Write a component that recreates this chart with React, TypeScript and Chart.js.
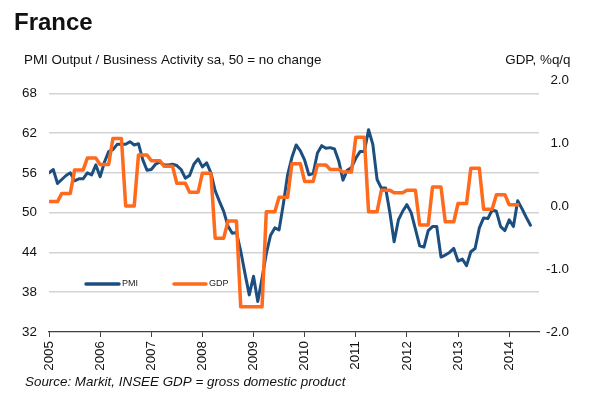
import React, { useEffect, useRef } from "react";
import { Chart, registerables } from "chart.js";

Chart.register(...registerables);

// ---------- data ----------
const yearLabels = ["2005", "2006", "2007", "2008", "2009", "2010", "2011", "2012", "2013", "2014"];

// Monthly PMI, Jan 2005 .. Jun 2014
const pmi = [
  56.0, 56.5, 54.4, 55.0, 55.6, 56.0, 54.8, 55.1, 55.1, 56.0, 55.7, 57.2, // 2005
  55.4, 57.6, 59.2, 59.5, 60.3, 60.3, 60.3, 60.7, 60.2, 60.4, 58.0, 56.4, // 2006
  56.5, 57.3, 57.6, 57.2, 57.2, 57.3, 57.1, 56.5, 55.2, 55.6, 57.3, 58.1, // 2007
  56.9, 57.5, 56.0, 53.3, 51.7, 50.2, 48.0, 46.9, 47.0, 44.2, 40.8, 37.6, // 2008
  40.4, 36.6, 40.1, 43.8, 46.6, 47.7, 47.4, 51.3, 55.7, 58.3, 60.2, 59.3, // 2009
  57.9, 55.7, 55.9, 59.0, 60.1, 59.7, 59.8, 59.6, 57.8, 54.9, 56.4, 56.8, // 2010
  58.2, 59.2, 59.2, 62.5, 60.3, 55.0, 53.7, 53.7, 50.0, 45.6, 48.9, 50.2, // 2011
  51.2, 50.0, 47.5, 45.0, 44.8, 47.3, 47.9, 47.9, 43.3, 43.6, 44.0, 44.6, // 2012
  42.7, 43.0, 42.0, 44.1, 44.6, 47.7, 49.2, 49.1, 50.4, 50.2, 47.9, 47.3, // 2013
  48.9, 47.9, 51.8, 50.6, 49.3, 48.1, // 2014
];

// Quarterly GDP % q/q, Q1 2005 .. Q1 2014
const gdpQuarterly = [
  0.07, 0.2, 0.57, 0.76, // 2005
  0.66, 1.07, 0.0, 0.81, // 2006
  0.72, 0.63, 0.36, 0.22, // 2007
  0.52, -0.51, -0.24, -1.6, // 2008
  -1.6, -0.09, 0.14, 0.67, // 2009
  0.39, 0.65, 0.58, 0.54, // 2010
  1.09, -0.09, 0.25, 0.21, // 2011
  0.25, -0.3, 0.3, -0.25, // 2012
  0.04, 0.6, -0.05, 0.18, // 2013
  0.02, // 2014
];

const leftTicks = [32, 38, 44, 50, 56, 62, 68];
const rightTicks = [-2, -1, 0, 1, 2];

// ---------- styles ----------
const FONT = '"Liberation Sans", Arial, Helvetica, sans-serif';
const BLUE = "#1C4F80";
const ORANGE = "#FF6A1C";
const TEXT = "#111111";

const textPlugin = {
  id: "texts",
  afterDraw(chart: any) {
    const ctx = chart.ctx;
    ctx.save();
    ctx.fillStyle = TEXT;
    ctx.textBaseline = "alphabetic";
    ctx.textAlign = "left";
    ctx.font = `bold 24px ${FONT}`;
    ctx.fillText("France", 14, 29.5);
    ctx.font = `13.4px ${FONT}`;
    ctx.fillText("PMI Output / Business Activity sa, 50 = no change", 24, 63.5);
    ctx.textAlign = "right";
    ctx.fillText("GDP, %q/q", 570.5, 64);
    ctx.textAlign = "left";
    ctx.font = `italic 13.4px ${FONT}`;
    ctx.fillText("Source: Markit, INSEE GDP = gross domestic product", 25, 386);

    // legend inside plot
    const { left, bottom } = chart.chartArea;
    const ly = bottom - 48;
    ctx.lineCap = "round";
    ctx.lineWidth = 3.5;
    ctx.strokeStyle = BLUE;
    ctx.beginPath();
    ctx.moveTo(left + 37, ly);
    ctx.lineTo(left + 70, ly);
    ctx.stroke();
    ctx.strokeStyle = ORANGE;
    ctx.beginPath();
    ctx.moveTo(left + 125, ly);
    ctx.lineTo(left + 157, ly);
    ctx.stroke();
    ctx.font = `9px ${FONT}`;
    ctx.fillStyle = "#222";
    ctx.textBaseline = "middle";
    ctx.fillText("PMI", left + 73, ly);
    ctx.fillText("GDP", left + 160, ly);
    ctx.restore();
  },
};

export default function App() {
  const ref = useRef<HTMLCanvasElement | null>(null);

  useEffect(() => {
    if (!ref.current) return;
    const pmiPoints = pmi.map((v, i) => ({ x: i, y: v }));
    const gdpMonthly = gdpQuarterly.flatMap((v) => [v, v, v]);
    const gdpPoints = gdpMonthly.map((v, i) => ({ x: i, y: v }));

    const chart = new Chart(ref.current, {
      type: "line",
      data: {
        datasets: [
          {
            label: "GDP",
            data: gdpPoints,
            yAxisID: "y1",
            borderColor: ORANGE,
            backgroundColor: ORANGE,
            borderWidth: 3.5,
            pointRadius: 0,
            borderJoinStyle: "round",
            borderCapStyle: "round",
            tension: 0,
            fill: false,
            order: 0,
          },
          {
            label: "PMI",
            data: pmiPoints,
            yAxisID: "y",
            borderColor: BLUE,
            backgroundColor: BLUE,
            borderWidth: 3,
            pointRadius: 0,
            borderJoinStyle: "round",
            borderCapStyle: "round",
            tension: 0,
            fill: false,
            order: 1,
          },
        ],
      },
      options: {
        responsive: false,
        animation: false,
        events: [],
        layout: { padding: { left: 0, right: 31, top: 80, bottom: 0 } },
        plugins: { legend: { display: false }, tooltip: { enabled: false }, title: { display: false } },
        scales: {
          x: {
            type: "linear",
            position: "bottom",
            min: 0,
            max: 115,
            afterBuildTicks: (s: any) => {
              s.ticks = yearLabels.map((_, k) => ({ value: k * 12 }));
            },
            afterFit: (s: any) => {
              s.height = 62;
            },
            ticks: {
              autoSkip: false,
              minRotation: 90,
              maxRotation: 90,
              padding: 4,
              color: TEXT,
              font: { family: FONT, size: 13.4 },
              callback: (v: any) => yearLabels[Math.round(Number(v) / 12)],
            },
            grid: {
              drawOnChartArea: false,
              drawTicks: true,
              tickLength: 5,
              color: "#404040",
              lineWidth: 1,
            },
            border: { display: true, color: "#404040", width: 1.2 },
          },
          y: {
            type: "linear",
            position: "left",
            min: 32,
            max: 70,
            afterBuildTicks: (s: any) => {
              s.ticks = leftTicks.map((v) => ({ value: v }));
            },
            afterFit: (s: any) => {
              s.width = 49;
            },
            ticks: {
              padding: 12,
              color: TEXT,
              font: { family: FONT, size: 13.4 },
            },
            grid: {
              drawTicks: false,
              lineWidth: 1.5,
              color: (c: any) => (c.tick && c.tick.value === 32 ? "rgba(0,0,0,0)" : "#D3D3D3"),
            },
            border: { display: false },
          },
          y1: {
            type: "linear",
            position: "right",
            min: -2,
            max: 2,
            afterBuildTicks: (s: any) => {
              s.ticks = rightTicks.map((v) => ({ value: v }));
            },
            afterFit: (s: any) => {
              s.width = 30;
            },
            ticks: {
              crossAlign: "far",
              padding: 0,
              color: TEXT,
              font: { family: FONT, size: 13.4 },
              callback: (v: any) => Number(v).toFixed(1),
            },
            grid: { display: false, drawOnChartArea: false, drawTicks: false },
            border: { display: false },
          },
        },
      },
      plugins: [textPlugin],
    } as any);

    return () => chart.destroy();
  }, []);

  return (
    <div style={{ position: "absolute", left: 0, top: 0, width: 600, height: 394, background: "#fff" }}>
      <canvas ref={ref} width={600} height={394} style={{ display: "block", width: 600, height: 394 }} />
    </div>
  );
}
